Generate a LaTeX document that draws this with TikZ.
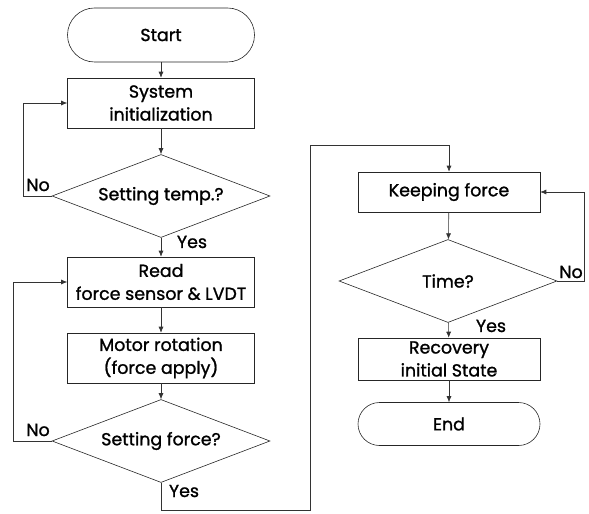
\documentclass[tikz,border=0pt]{standalone}
\usepackage{fontspec}
\setmainfont{Poppins}[UprightFeatures={FakeBold=1.2}]
\usetikzlibrary{shapes.geometric,arrows.meta}
\tikzset{
  term/.style={draw=black!85,line width=0.6pt,rectangle,rounded corners=#1,align=center},
  proc/.style={draw=black!85,line width=0.6pt,rectangle,minimum width=187bp,align=center,inner sep=0pt},
  decide/.style={draw=black!85,line width=0.6pt,diamond,aspect=2.6,inner sep=0pt,minimum width=218bp,minimum height=83bp},
  link/.style={draw=black!80,line width=0.6pt,-{Latex[length=6pt,width=5pt]}},
  lab/.style={inner sep=0pt}
}
\begin{document}
\begin{tikzpicture}[x=1bp,y=-1bp,font=\fontsize{17.5}{23}\selectfont]
				\useasboundingbox (0,0) rectangle (589,514);
				%Start
				\node[term=27bp,minimum width=187bp,minimum height=54bp] (start) at (161,35) {Start};
				%Khoi 1
				\node[proc,minimum height=50bp] (init) at (161,103) {System\\initialization};
				\node[decide] (temp) at (161,196) {Setting temp.?};
				%Khoi 2
				\node[proc,minimum height=50bp] (read) at (161,282) {Read\\force sensor \& LVDT};
				\node[proc,minimum height=50bp] (motor) at (161,358) {Motor rotation\\(force apply)};
				\node[decide] (force) at (161,441) {Setting force?};
				%Khoi 3
				\node[proc,minimum width=182bp,minimum height=40bp] (keep) at (449,192) {Keeping force};
				\node[decide] (time) at (448,281) {Time?};
				\node[proc,minimum width=182bp,minimum height=42bp] (recov) at (449,359) {Recovery\\initial State};
				\node[term=21.5bp,minimum width=182bp,minimum height=43bp] (end) at (449,424) {End};
				%Mui ten
				\draw[link] (start) -- (init);
				\draw[link] (init) -- (temp);
				\draw[link] (temp.west) -- ++(-28,0) |- (init.west);
				\draw[link] (temp) -- (read);
				\draw[link] (read) -- (motor);
				\draw[link] (motor) -- (force);
				\draw[link] (force.west) -- ++(-38,0) |- (read.west);
				\coordinate (turn) at (310,510);
				\coordinate (top) at (310,145);
				\draw[link] (force.south) |- (turn) -- (top) -| (keep.north);
				\draw[link] (keep) -- (time);
				\draw[link] (time.east) -- ++(27,0) |- (keep.east);
				\draw[link] (time) -- (recov);
				\draw[link] (recov) -- (end);
				%Nhan
				\node[lab] (no1) at (38,185) {No};
				\node[lab] (yes1) at (192,242) {Yes};
				\node[lab] (no2) at (38,430) {No};
				\node[lab] (yes2) at (184,491) {Yes};
				\node[lab] (no3) at (571,272) {No};
				\node[lab] (yes3) at (491,326) {Yes};
\end{tikzpicture}
\end{document}
